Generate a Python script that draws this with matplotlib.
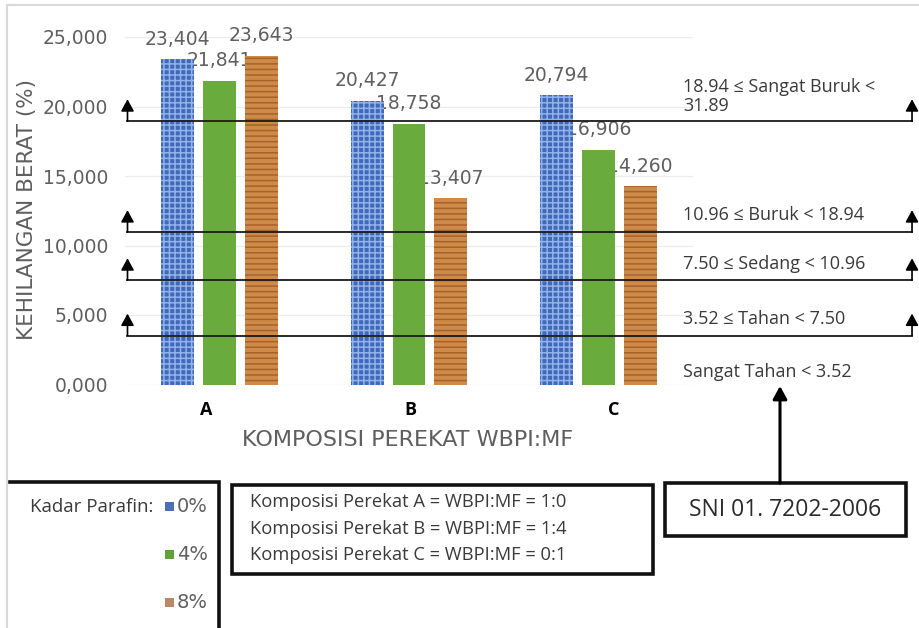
import matplotlib
matplotlib.use("Agg")
import matplotlib.pyplot as plt
from matplotlib.patches import Rectangle
from matplotlib.ticker import FuncFormatter
from matplotlib.transforms import blended_transform_factory, ScaledTranslation

# ---- data -------------------------------------------------------------
categories = ["A", "B", "C"]
series_names = ["0%", "4%", "8%"]
loss_0 = [23.404, 20.427, 20.794]
loss_4 = [21.841, 18.758, 16.906]
loss_8 = [23.643, 13.407, 14.260]
y_ticks = [0, 5, 10, 15, 20, 25]

thresholds = [18.94, 10.96, 7.50, 3.52]
threshold_labels = [
    "18.94 \u2264 Sangat Buruk <\n31.89",
    "10.96 \u2264 Buruk < 18.94",
    "7.50 \u2264 Sedang < 10.96",
    "3.52 \u2264 Tahan < 7.50",
]
lowest_class = "Sangat Tahan < 3.52"
composition_lines = [
    "Komposisi Perekat A = WBPI:MF = 1:0",
    "Komposisi Perekat B = WBPI:MF = 1:4",
    "Komposisi Perekat C = WBPI:MF = 0:1",
]
standard_name = "SNI 01. 7202-2006"
legend_title = "Kadar Parafin:"
x_title = "KOMPOSISI PEREKAT WBPI:MF"
y_title = "KEHILANGAN BERAT (%)"

# ---- styling ----------------------------------------------------------
W, H = 920, 628
GRAY = "#5f5f5f"
DARK = "#3a3a3a"
SANS2 = ["Open Sans", "DejaVu Sans"]
face_colors = ["#4169b9", "#6aab3d", "#d08a48"]
hatch_colors = ["#93b2ea", None, "#a5622a"]
hatches = ["+++", None, "---"]
legend_colors = ["#4a6fb8", "#5fa23a", "#b98866"]
plt.rcParams["hatch.linewidth"] = 1.1

fig = plt.figure(figsize=(W / 100, H / 100), dpi=100)
fig.patch.set_facecolor("white")

# plot area in pixels: x 125..693, y 37..384.5
ax = fig.add_axes([125 / W, 1 - 384.5 / H, 568 / W, 347.5 / H])
ax.set_xlim(-0.5, 2.5)
ax.set_ylim(0, 25)
for s in ax.spines.values():
    s.set_visible(False)
ax.set_yticks(y_ticks)
ax.yaxis.set_major_formatter(FuncFormatter(lambda v, p: f"{v:.3f}".replace(".", ",")))
ax.tick_params(axis="y", length=0, pad=12, labelsize=13.5, labelcolor=GRAY)
ax.set_xticks([])
ax.grid(axis="y", color="#ececec", lw=0.9, zorder=0)
ax.set_axisbelow(True)

bar_w = 0.174
step = 0.221
series = [loss_0, loss_4, loss_8]
label_lift = ScaledTranslation(0, 20 / 100, fig.dpi_scale_trans)
for i, vals in enumerate(series):
    xs = [k + (i - 1) * step for k in range(len(categories))]
    ax.bar(xs, vals, width=bar_w, color=face_colors[i], lw=0, zorder=3)
    if hatches[i]:
        ax.bar(xs, vals, width=bar_w, fill=False, hatch=hatches[i],
               edgecolor=hatch_colors[i], lw=0, zorder=3.1)
    for x, v in zip(xs, vals):
        ax.text(x, v, f"{v:.3f}".replace(".", ","), ha="center", va="center",
                fontsize=13.5, color=GRAY, zorder=2,
                transform=ax.transData + label_lift)

# category letters under each group
cat_shift = [-0.07, 0.01, 0.08]
xdata_yaxes = blended_transform_factory(ax.transData, ax.transAxes)
for k, c in enumerate(categories):
    ax.text(k + cat_shift[k], -0.073, c, transform=xdata_yaxes, ha="center",
            va="center", fontsize=13, fontweight="bold", color="black",
            family=SANS2)

# classification lines with up-arrows on both ends
xaxes_ydata = blended_transform_factory(ax.transAxes, ax.transData)
xl, xr = 0.0044, 1.3856
rise = ScaledTranslation(0, 22 / 100, fig.dpi_scale_trans)
arrow_kw = dict(arrowstyle="-|>,head_length=0.55,head_width=0.3",
                color="black", lw=1.2, mutation_scale=13, shrinkA=0, shrinkB=0)
for v, lab in zip(thresholds, threshold_labels):
    ax.plot([xl, xr], [v, v], transform=xaxes_ydata, color="#1a1a1a", lw=1.3,
            clip_on=False, zorder=5)
    for x in (xl, xr):
        ax.annotate("", xy=(x, v), xycoords=xaxes_ydata + rise,
                    xytext=(x, v), textcoords=xaxes_ydata,
                    arrowprops=arrow_kw, annotation_clip=False, zorder=5)
    ax.annotate(lab, xy=(0.982, v), xycoords=xaxes_ydata,
                xytext=(0, 12 if "\n" not in lab else 18),
                textcoords="offset points", ha="left", va="center",
                fontsize=13, color=DARK, family=SANS2, linespacing=1.1,
                annotation_clip=False)
ax.annotate(lowest_class, xy=(0.982, 0), xycoords=xaxes_ydata,
            xytext=(0, 9), textcoords="offset points", ha="left", va="center",
            fontsize=13, color=DARK, family=SANS2, annotation_clip=False)

# axis titles
fig.text(408 / W, 1 - 440 / H, x_title, ha="center", va="center",
         fontsize=16, color=GRAY)
fig.text(27 / W, 1 - 210 / H, y_title, ha="center", va="center",
         rotation=90, fontsize=15.5, color=GRAY)

# ---- overlay in pixel units for boxes and legend ----------------------
ov = fig.add_axes([0, 0, 1, 1], zorder=4)
ov.set_xlim(0, W)
ov.set_ylim(H, 0)
ov.axis("off")

# outer chart frame
ov.plot([7, W], [5, 5], color="#d9d9d9", lw=1.5)
ov.plot([7, 7], [5, H], color="#d9d9d9", lw=1.5)

# legend panel
ov.plot([10, 219, 219], [482, 482, H + 5], color="#111111", lw=2.6,
         solid_joinstyle="miter", clip_on=False)
ov.text(153, 507, legend_title, ha="right", va="center", fontsize=13.5,
        color=DARK, family=SANS2)
for i, (name, col) in enumerate(zip(series_names, legend_colors)):
    yc = 506 + i * 48
    ov.add_patch(Rectangle((165, yc - 4.5), 9, 9, color=col, lw=0))
    ov.text(177, yc, name, ha="left", va="center", fontsize=14, color=GRAY)

# composition panel
ov.add_patch(Rectangle((232, 485), 421, 89, fill=False, ec="#111111", lw=2.6,
                       joinstyle="miter"))
for j, line in enumerate(composition_lines):
    ov.text(250, 502 + j * 26.5, line, ha="left", va="center", fontsize=13.2,
            color=DARK, family=SANS2)

# standard box with pointer
ov.add_patch(Rectangle((665, 483), 241, 53, fill=False, ec="#111111", lw=2.6,
                       joinstyle="miter"))
ov.text(785.5, 509.5, standard_name, ha="center", va="center", fontsize=16.5,
        color="#2a2a2a", family=SANS2)
ov.annotate("", xy=(780, 386), xytext=(780, 483),
            arrowprops=dict(arrowstyle="-|>,head_length=0.55,head_width=0.3",
                            color="black", lw=2.2, mutation_scale=14,
                            shrinkA=0, shrinkB=0))

fig.savefig("out.png", dpi=100)
